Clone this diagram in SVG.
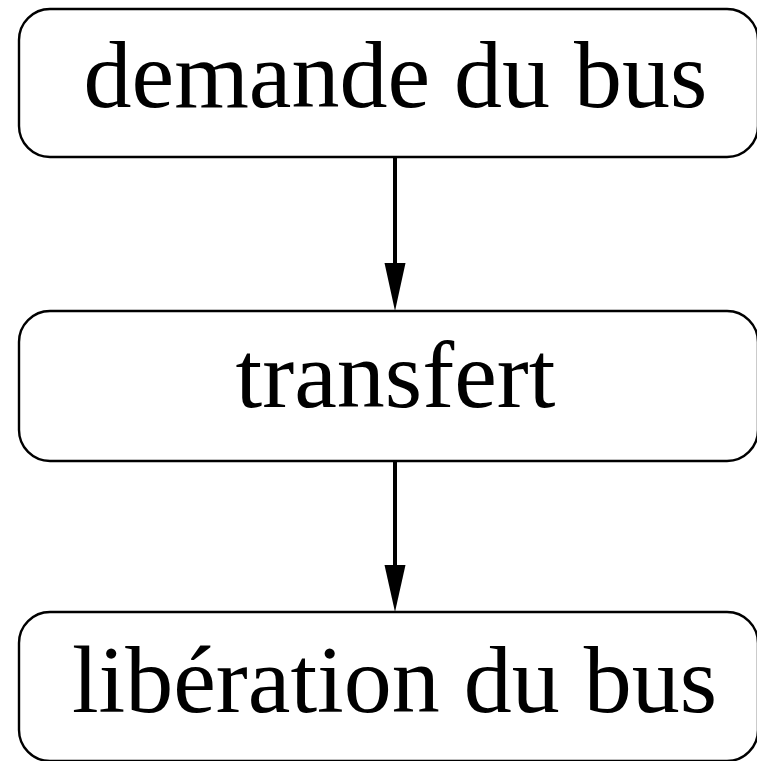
<svg xmlns="http://www.w3.org/2000/svg" width="757" height="761" viewBox="0 0 757 761">
  <style>
    .box { fill: #ffffff; stroke: #000000; stroke-width: 2.4; }
    .label { font-family: "Liberation Serif", "Times New Roman", serif; font-size: 96px; fill: #000000; text-anchor: middle; }
    .wire { stroke: #000000; stroke-width: 4; stroke-linecap: round; fill: none; }
    .head { fill: #000000; stroke: none; }
  </style>
  <rect x="0" y="0" width="757" height="761" fill="#ffffff"/>

  <g id="connectors">
    <line class="wire" x1="395" y1="157" x2="395" y2="266"/>
    <polygon class="head" points="384.5,263 405.5,263 395,311"/>
    <line class="wire" x1="395" y1="461" x2="395" y2="568"/>
    <polygon class="head" points="384.5,565 405.5,565 395,612"/>
  </g>

  <g id="demande">
    <rect class="box" x="19" y="9" width="739" height="148" rx="31" ry="31"/>
    <text class="label" x="395.5" y="107">demande du bus</text>
  </g>

  <g id="transfert">
    <rect class="box" x="19" y="311" width="739" height="150" rx="31" ry="31"/>
    <text class="label" x="395.5" y="407">transfert</text>
  </g>

  <g id="liberation">
    <rect class="box" x="19" y="612" width="739" height="149" rx="31" ry="31"/>
    <text class="label" x="394.5" y="712">libération du bus</text>
  </g>
</svg>
